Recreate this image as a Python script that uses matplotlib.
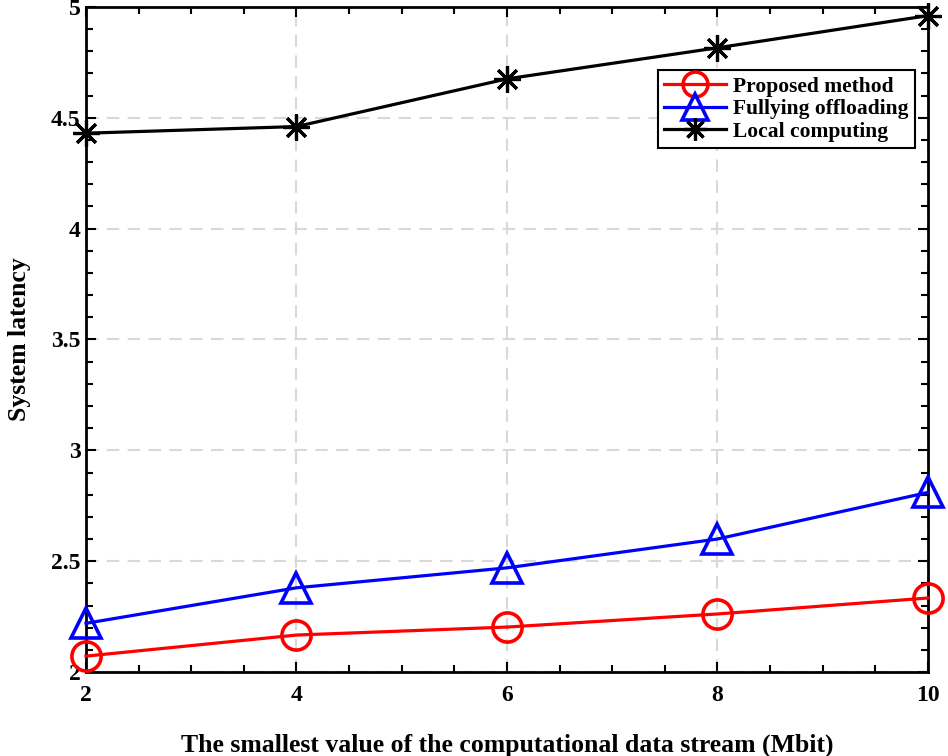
import numpy as np
import matplotlib.pyplot as plt
from matplotlib.ticker import MultipleLocator

plt.rcParams['font.family'] = ['Liberation Serif', 'DejaVu Serif']
plt.rcParams['font.weight'] = 'bold'

# data
x = [2, 4, 6, 8, 10]
proposed = [2.072, 2.167, 2.203, 2.262, 2.334]
full_off = [2.22, 2.38, 2.47, 2.60, 2.81]
local = [4.43, 4.46, 4.675, 4.815, 4.96]
labels = ['Proposed method', 'Fullying offloading', 'Local computing']

fig = plt.figure(figsize=(9.48, 7.56), dpi=100)
ax = fig.add_axes([0.0907, 0.111, 0.888, 0.88])

ax.plot(x, proposed, color='#ff0000', lw=2.3, marker='o', ms=21,
        mfc='none', mew=2.6, label=labels[0], clip_on=False, zorder=3)
ax.plot(x, full_off, color='#0000ff', lw=2.3, marker='^', ms=22,
        mfc='none', mew=2.6, label=labels[1], clip_on=False, zorder=3)
ax.plot(x, local, color='black', lw=2.3, marker=(8, 2, 0), ms=19,
        mew=2.3, label=labels[2], clip_on=False, zorder=3)

ax.set_xlim(2, 10)
ax.set_ylim(2, 5)
ax.xaxis.set_major_locator(MultipleLocator(2))
ax.xaxis.set_minor_locator(MultipleLocator(0.5))
ax.yaxis.set_major_locator(MultipleLocator(0.5))
ax.yaxis.set_minor_locator(MultipleLocator(0.1))
ax.set_yticks([2, 2.5, 3, 3.5, 4, 4.5, 5])
ax.set_yticklabels(['2', '2.5', '3', '3.5', '4', '4.5', '5'])

ax.tick_params(which='both', direction='in', top=True, right=True, width=1.5,
               labelsize=17)
ax.tick_params(which='major', length=7)
ax.tick_params(which='minor', length=5)
ax.tick_params(axis='x', pad=9)
ax.tick_params(axis='y', pad=4)
for s in ax.spines.values():
    s.set_linewidth(2)

ax.grid(True, which='major', color='#d9d9d9', linestyle=(0, (6, 4)), lw=1.5)
ax.set_axisbelow(True)

ax.set_xlabel('The smallest value of the computational data stream (Mbit)',
              fontsize=18.5, fontweight='bold', labelpad=20)
ax.set_ylabel('System latency', fontsize=18.5, fontweight='bold', labelpad=14)

leg = ax.legend(loc='upper right', bbox_to_anchor=(0.9846, 0.905), fontsize=15.5,
                fancybox=False, edgecolor='black', framealpha=1,
                handlelength=2.9, borderpad=0.3, labelspacing=0.12,
                handletextpad=0.3, markerscale=0.85, borderaxespad=0)
leg.get_frame().set_linewidth(1.5)

fig.savefig('out.png', dpi=100)
